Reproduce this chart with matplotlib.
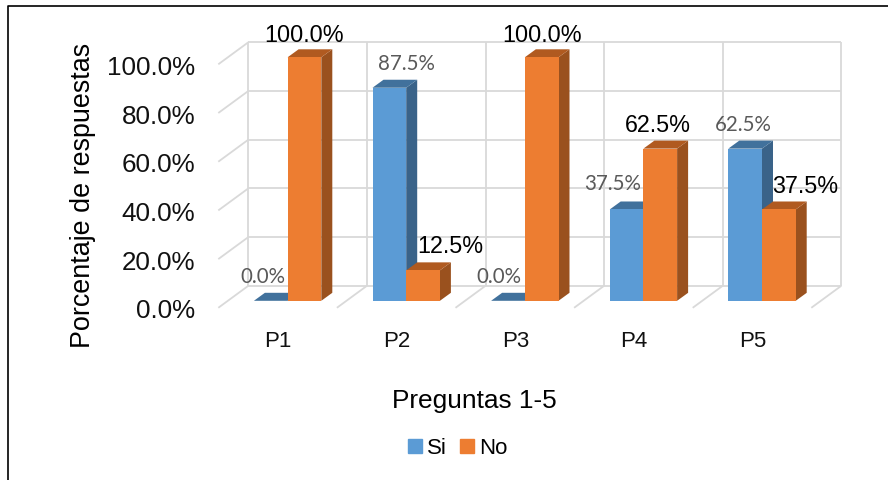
import matplotlib
matplotlib.use("Agg")
import matplotlib.pyplot as plt
from matplotlib.lines import Line2D
from matplotlib.patches import Patch, Polygon
from matplotlib.transforms import ScaledTranslation

plt.rcParams["font.family"] = ["Liberation Sans", "DejaVu Sans"]

# datos
preguntas = ["P1", "P2", "P3", "P4", "P5"]
si = [0.0, 87.5, 0.0, 37.5, 62.5]
no = [100.0, 12.5, 100.0, 62.5, 37.5]
y_ticks = [0, 20, 40, 60, 80, 100]

# colores: frente, lado, tapa
C_SI = ("#5B9BD5", "#3A6389", "#41719C")
C_NO = ("#ED7D31", "#9A511E", "#B05A20")
C_GRID = "#D9D9D9"

# desplazamiento de las etiquetas respecto a la barra (pixeles)
OFF_SI = [(-8, 25), (17, 25), (-9, 25), (-14, 26), (-2, 25)]
OFF_NO = [(0, 23), (27, 25), (0, 23), (-2, 24), (26, 24)]

W, H = 888, 481
fig = plt.figure(figsize=(W / 100, H / 100), dpi=100)
ax = fig.add_axes([228.3 / W, (H - 301.8) / H, 593 / W, 243.5 / H])
ax.set_xlim(-0.5, 4.5)
ax.set_ylim(0, 100)
for s in ax.spines.values():
    s.set_visible(False)

PX_X = 5 / 593      # pixel -> unidades de categoria
PX_Y = 100 / 243.5  # pixel -> porcentaje
BAR_W = 33.7 * PX_X

# caja 3D: pared del fondo y lineas del piso / lado
back_x, back_y = 20 * PX_X, 15 * PX_Y
front_x, front_y = -10 * PX_X, -7 * PX_Y
grid_kw = dict(color=C_GRID, lw=1.3, clip_on=False, zorder=1, solid_capstyle="butt")
for v in y_ticks:
    ax.plot([-0.5 + back_x, 4.5 + back_x], [v + back_y, v + back_y], **grid_kw)
    ax.plot([-0.5 + front_x, -0.5 + back_x], [v + front_y, v + back_y], **grid_kw)
for i in range(6):
    xb = i - 0.5 + back_x
    ax.plot([xb, xb], [back_y, 100 + back_y], **grid_kw)
    if i > 0:
        ax.plot([i - 0.5 + front_x, xb], [front_y, back_y], **grid_kw)


def bar_3d(x, val, colors, z):
    dx, dy = 11 * PX_X, 8 * PX_Y
    x0, x1 = x - BAR_W / 2, x + BAR_W / 2
    ax.bar(x, val, BAR_W, color=colors[0], zorder=z + 0.2, clip_on=False)
    ax.add_patch(Polygon([(x1, 0), (x1 + dx, dy), (x1 + dx, val + dy), (x1, val)],
                         fc=colors[1], ec="none", zorder=z, clip_on=False))
    ax.add_patch(Polygon([(x0, val), (x1, val), (x1 + dx, val + dy), (x0 + dx, val + dy)],
                         fc=colors[2], ec="none", zorder=z + 0.1, clip_on=False))


for i in range(len(preguntas)):
    xs = i - BAR_W / 2
    xn = i + BAR_W / 2
    bar_3d(xs, si[i], C_SI, 2 + i)
    bar_3d(xn, no[i], C_NO, 2.5 + i)
    ax.annotate(f"{si[i]:.1f}%", (xs, si[i]), xytext=OFF_SI[i], textcoords="offset pixels",
                ha="center", va="center", fontsize=14.8, color="#595959",
                family=["Lato", "DejaVu Sans"], zorder=20, annotation_clip=False)
    ax.annotate(f"{no[i]:.1f}%", (xn, no[i]), xytext=OFF_NO[i], textcoords="offset pixels",
                ha="center", va="center", fontsize=16.8, color="black",
                zorder=20, annotation_clip=False)

# ejes
ax.set_yticks(y_ticks)
ax.set_yticklabels([f"{v:.1f}%" for v in y_ticks], fontsize=18.7, color="#111111")
ax.tick_params(axis="y", length=0, pad=23.8)
ax.set_xticks(range(len(preguntas)))
ax.set_xticklabels(preguntas, fontsize=16, color="#111111")
ax.tick_params(axis="x", length=0, pad=21)
for lab in ax.get_yticklabels():
    lab.set_transform(lab.get_transform() + ScaledTranslation(0, -0.07, fig.dpi_scale_trans))
for lab in ax.get_xticklabels():
    lab.set_transform(lab.get_transform() + ScaledTranslation(-0.095, 0, fig.dpi_scale_trans))

ax.set_ylabel("Porcentaje de respuestas", fontsize=19.4, va="center")
ax.yaxis.set_label_coords((83 - 228) / 593, (301 - 195) / 243.5)
ax.set_xlabel("Preguntas 1-5", fontsize=18.9, va="center")
ax.xaxis.set_label_coords((474.5 - 228) / 593, (301 - 400.5) / 243.5)

handles = [Patch(color=C_SI[0], label="Si"), Patch(color=C_NO[0], label="No")]
fig.legend(handles=handles, loc="center", bbox_to_anchor=(458 / W, 1 - 449 / H), ncol=2,
           frameon=False, fontsize=16, handlelength=0.6, handleheight=0.6,
           handletextpad=0.25, columnspacing=0.6, borderpad=0)

# marco exterior (solo arriba e izquierda)
fig.add_artist(Line2D([8 / W, 8 / W, 1], [0, 1 - 6.5 / H, 1 - 6.5 / H],
                      color="black", lw=1.2, transform=fig.transFigure))

fig.savefig("out.png", dpi=100)
